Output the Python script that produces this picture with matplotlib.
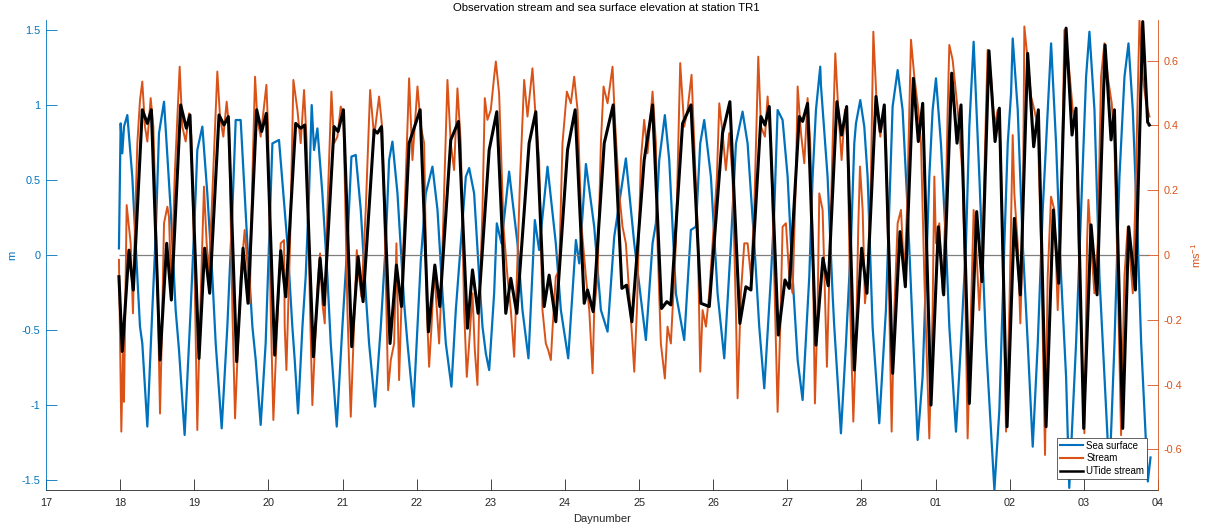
import numpy as np
import matplotlib
matplotlib.use("Agg")
import matplotlib.pyplot as plt
from matplotlib.lines import Line2D
from matplotlib.ticker import FixedLocator, FixedFormatter

plt.rcParams["font.family"] = ["Liberation Sans", "DejaVu Sans"]
plt.rcParams["mathtext.fontset"] = "custom"
plt.rcParams["mathtext.rm"] = "Liberation Sans"

# ---- observed sea surface elevation (day number, m) ----
sea_surface = [
    (17.984, 0.044), (18.007, 0.878), (18.029, 0.678), (18.052, 0.856), (18.097, 0.933),
    (18.164, 0.522), (18.232, -0.144), (18.268, -0.478), (18.299, -0.589), (18.367, -1.144),
    (18.434, -0.367), (18.479, 0.122), (18.524, 0.811), (18.592, 1.022), (18.682, 0.300),
    (18.749, -0.367), (18.794, -0.633), (18.870, -1.200), (18.951, -0.367), (19.019, 0.411),
    (19.041, 0.700), (19.109, 0.856), (19.176, 0.411), (19.244, -0.144), (19.289, -0.589),
    (19.370, -1.156), (19.446, -0.478), (19.514, 0.300), (19.559, 0.900), (19.626, 0.900),
    (19.716, 0.078), (19.784, -0.478), (19.829, -0.700), (19.896, -1.133), (19.963, -0.589),
    (20.008, 0.078), (20.054, 0.744), (20.143, 0.767), (20.256, 0.078), (20.323, -0.478),
    (20.355, -0.700), (20.400, -1.056), (20.459, -0.478), (20.503, -0.144), (20.548, 0.411),
    (20.584, 1.000), (20.616, 0.700), (20.661, 0.844), (20.728, 0.411), (20.796, -0.144),
    (20.841, -0.589), (20.922, -1.144), (20.998, -0.478), (21.066, 0.078), (21.120, 0.656),
    (21.178, 0.667), (21.246, 0.300), (21.313, -0.256), (21.358, -0.589), (21.439, -1.011),
    (21.516, -0.478), (21.583, 0.078), (21.628, 0.633), (21.673, 0.756), (21.741, 0.411),
    (21.831, -0.322), (21.876, -0.589), (21.957, -1.011), (22.011, -0.478), (22.056, -0.033),
    (22.123, 0.411), (22.213, 0.589), (22.281, 0.300), (22.348, -0.256), (22.393, -0.589),
    (22.469, -0.878), (22.528, -0.367), (22.595, 0.078), (22.663, 0.522), (22.708, 0.580),
    (22.775, 0.411), (22.843, -0.144), (22.888, -0.478), (22.933, -0.656), (22.978, -0.767),
    (23.045, -0.256), (23.081, 0.211), (23.144, 0.078), (23.247, 0.556), (23.360, 0.078),
    (23.427, -0.367), (23.508, -0.689), (23.594, 0.233), (23.652, 0.033), (23.765, 0.589),
    (23.877, 0.078), (23.945, -0.367), (24.044, -0.689), (24.148, 0.100), (24.193, -0.056),
    (24.283, 0.607), (24.395, 0.189), (24.485, -0.367), (24.575, -0.511), (24.665, 0.122),
    (24.822, 0.644), (24.935, 0.078), (25.092, -0.567), (25.182, 0.078), (25.227, 0.211),
    (25.272, 0.633), (25.348, 0.933), (25.407, 0.633), (25.452, 0.189), (25.497, -0.256),
    (25.609, -0.567), (25.699, 0.167), (25.767, 0.189), (25.825, 0.744), (25.879, 0.900),
    (25.969, 0.522), (26.059, -0.256), (26.149, -0.689), (26.239, 0.078), (26.307, 0.744),
    (26.396, 0.956), (26.464, 0.744), (26.554, 0.078), (26.621, -0.478), (26.689, -0.889),
    (26.779, -0.144), (26.824, 0.300), (26.869, 0.967), (26.936, 0.900), (27.004, 0.522),
    (27.071, -0.144), (27.139, -0.700), (27.206, -0.967), (27.296, -0.144), (27.341, 0.522),
    (27.386, 0.967), (27.444, 1.256), (27.453, 1.133), (27.543, 0.522), (27.610, -0.256),
    (27.633, -0.478), (27.723, -1.189), (27.791, -0.589), (27.858, 0.078), (27.903, 0.744),
    (27.926, 0.878), (27.984, 1.033), (28.038, 0.856), (28.083, 0.522), (28.150, -0.478),
    (28.240, -1.122), (28.330, -0.367), (28.375, 0.300), (28.420, 0.989), (28.488, 1.233),
    (28.555, 0.967), (28.623, 0.300), (28.690, -0.478), (28.758, -1.233), (28.825, -0.811),
    (28.870, -0.144), (28.915, 0.522), (28.960, 0.967), (29.005, 1.178), (29.072, 0.744),
    (29.140, 0.078), (29.185, -0.478), (29.275, -1.178), (29.342, -0.589), (29.410, 0.078),
    (29.455, 0.856), (29.513, 1.422), (29.590, 0.522), (29.680, -0.589), (29.793, -1.567),
    (29.860, -1.033), (29.928, 0.078), (29.973, 0.744), (30.018, 1.078), (30.040, 1.444),
    (30.108, 0.967), (30.175, 0.078), (30.243, -0.589), (30.310, -1.278), (30.378, -0.589),
    (30.445, 0.300), (30.513, 0.967), (30.558, 1.411), (30.625, 0.744), (30.693, -0.144),
    (30.760, -0.811), (30.803, -1.553), (30.895, -0.589), (30.963, 0.300), (31.030, 1.189),
    (31.075, 1.489), (31.143, 0.967), (31.210, -0.144), (31.278, -0.811), (31.345, -1.470),
    (31.413, -0.589), (31.480, 0.522), (31.548, 1.189), (31.602, 1.411), (31.660, 0.967),
    (31.728, 0.078), (31.773, -0.589), (31.863, -1.510), (31.899, -1.350),
]

# ---- observed stream (day number, m/s) ----
stream = [
    (17.984, -0.015), (18.016, -0.545), (18.038, -0.304), (18.052, -0.453), (18.088, 0.154),
    (18.119, 0.087), (18.142, 0.036), (18.173, -0.180), (18.200, 0.087), (18.232, 0.345),
    (18.268, 0.478), (18.299, 0.535), (18.335, 0.396), (18.367, 0.350), (18.412, 0.484),
    (18.448, 0.396), (18.479, 0.139), (18.511, -0.170), (18.538, -0.489), (18.560, -0.273),
    (18.592, 0.098), (18.637, 0.149), (18.659, 0.118), (18.691, -0.118), (18.736, 0.242),
    (18.803, 0.581), (18.839, 0.396), (18.884, 0.350), (18.929, 0.437), (18.960, 0.365),
    (19.005, -0.067), (19.041, -0.540), (19.068, -0.273), (19.109, 0.036), (19.131, 0.211),
    (19.167, 0.036), (19.199, -0.057), (19.244, 0.190), (19.311, 0.566), (19.347, 0.427),
    (19.392, 0.365), (19.437, 0.473), (19.469, 0.396), (19.514, -0.170), (19.550, -0.504),
    (19.581, -0.324), (19.626, -0.067), (19.680, 0.077), (19.716, -0.026), (19.748, -0.149),
    (19.784, 0.242), (19.820, 0.550), (19.852, 0.417), (19.896, 0.365), (19.973, 0.525),
    (19.995, 0.396), (20.031, -0.170), (20.067, -0.509), (20.099, -0.324), (20.166, 0.036),
    (20.211, 0.046), (20.220, -0.221), (20.243, -0.355), (20.292, 0.036), (20.337, 0.540),
    (20.391, 0.448), (20.436, 0.345), (20.481, 0.509), (20.517, 0.345), (20.562, -0.170),
    (20.593, -0.463), (20.629, -0.273), (20.670, -0.067), (20.697, 0.005), (20.728, -0.149),
    (20.760, -0.211), (20.796, 0.139), (20.850, 0.504), (20.886, 0.345), (20.931, 0.365),
    (20.976, 0.458), (21.012, 0.437), (21.066, -0.170), (21.111, -0.499), (21.147, -0.273),
    (21.192, 0.015), (21.223, -0.067), (21.255, -0.129), (21.313, 0.139), (21.372, 0.509),
    (21.426, 0.365), (21.493, 0.489), (21.538, 0.386), (21.583, -0.067), (21.615, -0.417),
    (21.651, -0.324), (21.696, -0.273), (21.727, 0.036), (21.763, -0.386), (21.795, -0.149),
    (21.853, 0.242), (21.898, 0.545), (21.943, 0.293), (22.011, 0.520), (22.056, 0.396),
    (22.101, 0.345), (22.137, -0.170), (22.168, -0.345), (22.200, -0.221), (22.236, -0.046),
    (22.272, -0.170), (22.303, -0.273), (22.326, -0.149), (22.370, 0.190), (22.415, 0.540),
    (22.460, 0.345), (22.505, 0.262), (22.550, 0.514), (22.595, 0.345), (22.640, -0.170),
    (22.676, -0.376), (22.708, -0.273), (22.753, -0.118), (22.784, -0.293), (22.820, -0.401),
    (22.843, -0.170), (22.888, 0.139), (22.919, 0.484), (22.955, 0.417), (23.000, 0.448),
    (23.045, 0.550), (23.068, 0.597), (23.112, 0.499), (23.135, 0.345), (23.171, 0.087),
    (23.225, -0.067), (23.270, -0.170), (23.315, -0.314), (23.337, -0.170), (23.396, 0.242),
    (23.450, 0.540), (23.495, 0.427), (23.562, 0.576), (23.607, 0.417), (23.652, 0.293),
    (23.697, -0.170), (23.742, -0.273), (23.774, -0.293), (23.810, -0.324), (23.832, -0.231),
    (23.877, -0.067), (23.922, -0.046), (23.967, 0.345), (24.026, 0.504), (24.080, 0.468),
    (24.125, 0.550), (24.170, 0.448), (24.224, 0.087), (24.283, -0.067), (24.328, -0.170),
    (24.373, -0.365), (24.395, -0.170), (24.440, -0.067), (24.485, 0.345), (24.521, 0.520),
    (24.575, 0.468), (24.642, 0.581), (24.674, 0.417), (24.732, 0.190), (24.777, 0.087),
    (24.822, 0.036), (24.867, -0.118), (24.912, -0.273), (24.935, -0.360), (24.971, -0.170),
    (25.024, 0.293), (25.069, 0.417), (25.114, 0.314), (25.182, 0.504), (25.227, 0.345),
    (25.249, 0.036), (25.294, -0.273), (25.330, -0.345), (25.348, -0.381), (25.384, -0.221),
    (25.429, -0.273), (25.497, 0.036), (25.555, 0.592), (25.609, 0.396), (25.654, 0.448),
    (25.708, 0.556), (25.744, 0.345), (25.789, 0.087), (25.825, -0.360), (25.857, -0.170),
    (25.902, -0.221), (25.947, -0.118), (25.992, 0.036), (26.050, 0.242), (26.082, 0.468),
    (26.126, 0.376), (26.171, 0.262), (26.216, 0.376), (26.261, 0.242), (26.306, -0.170),
    (26.329, -0.442), (26.374, -0.118), (26.419, 0.036), (26.464, 0.036), (26.509, -0.067),
    (26.554, 0.139), (26.608, 0.612), (26.644, 0.396), (26.698, 0.365), (26.734, 0.489),
    (26.779, 0.345), (26.824, -0.067), (26.869, -0.484), (26.905, -0.221), (26.936, 0.087),
    (26.981, 0.098), (27.026, -0.067), (27.071, -0.118), (27.116, 0.242), (27.139, 0.520),
    (27.184, 0.376), (27.229, 0.283), (27.273, 0.484), (27.309, 0.345), (27.341, 0.036),
    (27.372, -0.458), (27.408, -0.170), (27.431, 0.190), (27.476, 0.139), (27.534, -0.345),
    (27.566, -0.067), (27.611, 0.345), (27.647, 0.622), (27.687, 0.448), (27.732, 0.293),
    (27.777, 0.448), (27.813, 0.345), (27.849, -0.170), (27.890, -0.514), (27.926, -0.273),
    (27.957, 0.087), (27.980, 0.273), (28.016, 0.139), (28.047, -0.149), (28.083, -0.067),
    (28.128, 0.242), (28.160, 0.689), (28.209, 0.448), (28.254, 0.365), (28.299, 0.448),
    (28.331, 0.345), (28.376, -0.170), (28.407, -0.545), (28.443, -0.170), (28.488, 0.098),
    (28.533, 0.139), (28.578, -0.067), (28.614, 0.139), (28.645, 0.448), (28.668, 0.664),
    (28.713, 0.550), (28.767, 0.448), (28.803, 0.345), (28.848, -0.067), (28.915, -0.566),
    (28.960, -0.170), (28.983, 0.242), (29.005, 0.036), (29.050, 0.098), (29.095, -0.118),
    (29.140, 0.190), (29.163, 0.448), (29.185, 0.648), (29.230, 0.602), (29.298, 0.448),
    (29.365, 0.242), (29.397, -0.067), (29.432, -0.566), (29.477, -0.170), (29.513, 0.139),
    (29.545, 0.036), (29.590, -0.170), (29.635, 0.036), (29.680, 0.448), (29.702, 0.633),
    (29.748, 0.550), (29.793, 0.396), (29.838, 0.448), (29.874, 0.345), (29.905, 0.036),
    (29.950, -0.545), (29.995, -0.170), (30.040, 0.370), (30.062, 0.190), (30.107, 0.036),
    (30.143, -0.211), (30.175, 0.036), (30.197, 0.705), (30.242, 0.602), (30.287, 0.489),
    (30.332, 0.448), (30.377, 0.396), (30.422, 0.036), (30.476, -0.617), (30.512, -0.067),
    (30.557, 0.180), (30.602, 0.139), (30.647, -0.170), (30.692, 0.087), (30.737, 0.694),
    (30.782, 0.622), (30.850, 0.448), (30.895, 0.396), (30.940, -0.067), (31.007, -0.550),
    (31.043, 0.036), (31.061, 0.170), (31.097, 0.036), (31.142, -0.118), (31.187, 0.036),
    (31.232, 0.550), (31.277, 0.653), (31.322, 0.550), (31.376, 0.468), (31.412, 0.345),
    (31.457, -0.067), (31.502, -0.556), (31.547, -0.067), (31.592, 0.087), (31.660, -0.118),
    (31.691, 0.139), (31.750, 0.725), (31.795, 0.550), (31.840, 0.468), (31.885, 0.427),
]

# ---- UTide tidal reconstruction of the stream (day number, m/s) ----
utide_stream = [
    (17.984, -0.067), (18.029, -0.298), (18.119, 0.015), (18.178, -0.108), (18.299, 0.448),
    (18.367, 0.406), (18.421, 0.448), (18.538, -0.324), (18.628, 0.036), (18.691, -0.139),
    (18.817, 0.463), (18.893, 0.391), (18.942, 0.432), (19.064, -0.319), (19.140, 0.021),
    (19.208, -0.118), (19.334, 0.432), (19.401, 0.401), (19.460, 0.427), (19.572, -0.329),
    (19.658, 0.021), (19.725, -0.149), (19.842, 0.448), (19.909, 0.381), (19.972, 0.437),
    (20.085, -0.309), (20.166, 0.013), (20.234, -0.129), (20.368, 0.406), (20.436, 0.391),
    (20.490, 0.401), (20.607, -0.314), (20.697, -0.010), (20.752, -0.154), (20.886, 0.396),
    (20.940, 0.381), (21.012, 0.448), (21.124, -0.283), (21.210, -0.005), (21.277, -0.144),
    (21.426, 0.386), (21.471, 0.376), (21.525, 0.396), (21.641, -0.273), (21.727, -0.031),
    (21.795, -0.159), (21.898, 0.345), (22.047, 0.448), (22.159, -0.237), (22.245, -0.031),
    (22.312, -0.159), (22.460, 0.355), (22.564, 0.412), (22.685, -0.226), (22.753, -0.046),
    (22.829, -0.180), (22.978, 0.324), (23.081, 0.442), (23.202, -0.180), (23.270, -0.072),
    (23.351, -0.180), (23.517, 0.345), (23.607, 0.442), (23.720, -0.159), (23.787, -0.062),
    (23.877, -0.206), (24.035, 0.324), (24.138, 0.448), (24.260, -0.149), (24.305, -0.108),
    (24.381, -0.175), (24.530, 0.345), (24.651, 0.463), (24.768, -0.103), (24.831, -0.093),
    (24.903, -0.206), (25.069, 0.293), (25.182, 0.463), (25.303, -0.165), (25.375, -0.144),
    (25.429, -0.154), (25.587, 0.406), (25.700, 0.463), (25.834, -0.149), (25.947, -0.159),
    (26.126, 0.376), (26.225, 0.473), (26.360, -0.211), (26.441, -0.098), (26.509, -0.108),
    (26.644, 0.427), (26.698, 0.401), (26.756, 0.458), (26.878, -0.247), (26.968, -0.077),
    (27.026, -0.103), (27.161, 0.427), (27.206, 0.412), (27.273, 0.468), (27.386, -0.278),
    (27.480, -0.010), (27.552, -0.095), (27.669, 0.473), (27.732, 0.370), (27.800, 0.458),
    (27.903, -0.355), (28.002, 0.021), (28.074, -0.118), (28.196, 0.489), (28.254, 0.381),
    (28.308, 0.463), (28.421, -0.365), (28.520, 0.072), (28.592, -0.098), (28.700, 0.545),
    (28.767, 0.350), (28.826, 0.468), (28.938, -0.463), (29.037, 0.087), (29.109, -0.123),
    (29.217, 0.561), (29.289, 0.345), (29.343, 0.463), (29.455, -0.458), (29.554, 0.134),
    (29.626, -0.082), (29.720, 0.630), (29.802, 0.350), (29.860, 0.453), (29.964, -0.530),
    (30.062, 0.113), (30.143, -0.123), (30.242, 0.622), (30.323, 0.334), (30.386, 0.448),
    (30.490, -0.530), (30.588, 0.139), (30.660, -0.087), (30.760, 0.700), (30.840, 0.370),
    (30.894, 0.453), (30.998, -0.535), (31.097, 0.093), (31.178, -0.123), (31.286, 0.648),
    (31.367, 0.355), (31.412, 0.448), (31.524, -0.535), (31.605, 0.087), (31.695, -0.108),
    (31.794, 0.720), (31.860, 0.410), (31.884, 0.401),
]

# day-number ticks: the series runs from January into February
day_ticks = list(range(17, 33))
day_labels = ["17", "18", "19", "20", "21", "22", "23", "24", "25", "26", "27", "28",
              "01", "02", "03", "04"]
m_ticks = [-1.5, -1.0, -0.5, 0.0, 0.5, 1.0, 1.5]
m_labels = ["-1.5", "-1", "-0.5", "0", "0.5", "1", "1.5"]
ms_ticks = [-0.6, -0.4, -0.2, 0.0, 0.2, 0.4, 0.6]
ms_labels = ["-0.6", "-0.4", "-0.2", "0", "0.2", "0.4", "0.6"]

BLUE = "#0072BD"
ORANGE = "#D95319"
AXGRAY = "#262626"

ss_t, ss_v = np.array(sea_surface).T
st_t, st_v = np.array(stream).T
ut_t, ut_v = np.array(utide_stream).T

fig = plt.figure(figsize=(12.10, 5.29), dpi=100)
ax = fig.add_axes([46 / 1210, 39 / 529, 1112 / 1210, 470 / 529])
ax2 = ax.twinx()

# sea surface on the left axis
ax.plot(ss_t, ss_v, color=BLUE, lw=1.6, solid_joinstyle="round")
m_lim = np.max(np.abs(ss_v))
ax.set_ylim(-m_lim, m_lim)
ax.set_xlim(17, 32)

# stream and tidal fit on the right axis
ax2.hlines(0, ut_t[0], ut_t[-1], color="#7f7f7f", lw=0.9, zorder=1)
ax2.plot(st_t, st_v, color=ORANGE, lw=1.4, zorder=2, solid_joinstyle="round")
ax2.plot(ut_t, ut_v, color="black", lw=2.2, zorder=3, solid_joinstyle="round")
ms_lim = np.max(np.abs(st_v))
ax2.set_ylim(-ms_lim, ms_lim)

# axes styling
for a in (ax, ax2):
    a.spines["top"].set_visible(False)
ax.spines["right"].set_visible(False)
ax2.spines["left"].set_visible(False)
ax2.spines["bottom"].set_visible(False)
ax.spines["left"].set_color(BLUE)
ax.spines["bottom"].set_color(AXGRAY)
ax2.spines["right"].set_color(ORANGE)
for s in ("left", "bottom"):
    ax.spines[s].set_linewidth(0.6)
ax2.spines["right"].set_linewidth(0.6)

ax.xaxis.set_major_locator(FixedLocator(day_ticks))
ax.xaxis.set_major_formatter(FixedFormatter(day_labels))
ax.yaxis.set_major_locator(FixedLocator(m_ticks))
ax.yaxis.set_major_formatter(FixedFormatter(m_labels))
ax2.yaxis.set_major_locator(FixedLocator(ms_ticks))
ax2.yaxis.set_major_formatter(FixedFormatter(ms_labels))

ax.tick_params(axis="x", direction="in", length=7.7, width=0.6, colors=AXGRAY,
               labelsize=7.8, pad=5.5)
ax.tick_params(axis="y", direction="in", length=7.7, width=0.6, colors=BLUE,
               labelsize=7.8, pad=4)
ax2.tick_params(axis="y", direction="in", length=7.7, width=0.6, colors=ORANGE,
                labelsize=7.8, pad=4)

ax.set_ylabel("m", color=BLUE, fontsize=8)
ax.yaxis.set_label_coords(-0.0261, 0.5)
ax2.set_ylabel(r"$\mathregular{ms^{-1}}$", color=ORANGE, fontsize=8)
ax2.yaxis.set_label_coords(1.0279, 0.5)
ax.set_xlabel("Daynumber", color=AXGRAY, fontsize=8)
ax.xaxis.set_label_coords(0.5, -0.050)

fig.text(606 / 1210, 1 - 8 / 529, "Observation stream and sea surface elevation at station TR1",
         ha="center", va="center", fontsize=8.2, color="black")

handles = [Line2D([], [], color=BLUE, lw=1.5),
           Line2D([], [], color=ORANGE, lw=1.5),
           Line2D([], [], color="black", lw=1.8)]
leg = ax2.legend(handles, ["Sea surface", "Stream", "UTide stream"],
                 loc="lower right", bbox_to_anchor=(1 - 10.7 / 1112, 10.7 / 470),
                 borderaxespad=0, fontsize=7, fancybox=False, framealpha=1,
                 edgecolor=AXGRAY, handlelength=2.4, handletextpad=0.35,
                 labelspacing=0.3, borderpad=0.3)
leg.get_frame().set_linewidth(0.5)

fig.savefig("out.png", dpi=100)
